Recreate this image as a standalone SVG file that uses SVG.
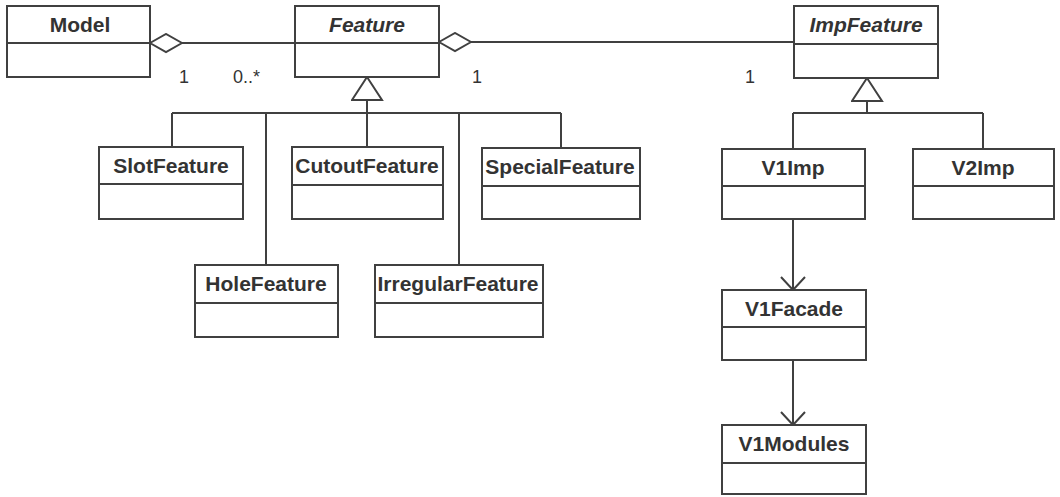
<svg xmlns="http://www.w3.org/2000/svg" width="1060" height="497" viewBox="0 0 1060 497">
<style>
.box{fill:#fff;stroke:#404040;stroke-width:2}
.div{stroke:#404040;stroke-width:2}
.name{font-family:"Liberation Sans",Arial,sans-serif;font-weight:bold;font-size:21px;fill:#333;text-anchor:middle}
.abs{font-style:italic}
.mult{font-family:"Liberation Sans",Arial,sans-serif;font-size:18px;fill:#333}
.ln{fill:none;stroke:#404040;stroke-width:2}
</style>
<defs>
<marker id="diamond" markerUnits="userSpaceOnUse" markerWidth="34" markerHeight="22" viewBox="-1 -1 34 22" refX="0" refY="9" orient="auto">
<path d="M0,9 L16,0 L32,9 L16,18 Z" fill="#fff" stroke="#404040" stroke-width="2"/>
</marker>
<marker id="tri" markerUnits="userSpaceOnUse" markerWidth="26" markerHeight="34" viewBox="-1 -1 26 34" refX="23" refY="15" orient="auto">
<path d="M23,15 L0,0 L0,30 Z" fill="#fff" stroke="#404040" stroke-width="2"/>
</marker>
<marker id="open" markerUnits="userSpaceOnUse" markerWidth="16" markerHeight="28" viewBox="-2 -2 16 28" refX="13" refY="12" orient="auto">
<path d="M0,0 L13,12 L0,24" fill="none" stroke="#404040" stroke-width="2"/>
</marker>
</defs>
<rect width="1060" height="497" fill="#fff"/>
<g id="connectors">
<path class="ln" d="M150,43 H295" marker-start="url(#diamond)"/>
<path class="ln" d="M439,42 H794" marker-start="url(#diamond)"/>
<path class="ln" d="M172,113 H561 M172,113 V147 M266,113 V265 M459,113 V265 M561,113 V148"/>
<path class="ln" d="M367,147 V77" marker-end="url(#tri)"/>
<path class="ln" d="M793,113 H983 M793,113 V149 M983,113 V149"/>
<path class="ln" d="M867,113 V78" marker-end="url(#tri)"/>
<path class="ln" d="M793,219 V290" marker-end="url(#open)"/>
<path class="ln" d="M793,360 V425" marker-end="url(#open)"/>
<text class="mult" x="179" y="83">1</text>
<text class="mult" x="233" y="83">0..*</text>
<text class="mult" x="472" y="83">1</text>
<text class="mult" x="745" y="83">1</text>
</g>
<g id="Model">
<rect class="box" x="7" y="6" width="143" height="71"/>
<line class="div" x1="7" y1="43" x2="150" y2="43"/>
<text class="name" x="80" y="32">Model</text>
</g>
<g id="Feature">
<rect class="box" x="295" y="6" width="144" height="71"/>
<line class="div" x1="295" y1="43" x2="439" y2="43"/>
<text class="name abs" x="367" y="32">Feature</text>
</g>
<g id="ImpFeature">
<rect class="box" x="794" y="6" width="144" height="72"/>
<line class="div" x1="794" y1="44" x2="938" y2="44"/>
<text class="name abs" x="866" y="32">ImpFeature</text>
</g>
<g id="SlotFeature">
<rect class="box" x="99" y="147" width="144" height="72"/>
<line class="div" x1="99" y1="184" x2="243" y2="184"/>
<text class="name" x="171" y="173">SlotFeature</text>
</g>
<g id="CutoutFeature">
<rect class="box" x="292" y="147" width="151" height="72"/>
<line class="div" x1="292" y1="185" x2="443" y2="185"/>
<text class="name" x="367" y="173">CutoutFeature</text>
</g>
<g id="SpecialFeature">
<rect class="box" x="482" y="148" width="158" height="71"/>
<line class="div" x1="482" y1="186" x2="640" y2="186"/>
<text class="name" x="560" y="174">SpecialFeature</text>
</g>
<g id="HoleFeature">
<rect class="box" x="195" y="265" width="143" height="72"/>
<line class="div" x1="195" y1="303" x2="338" y2="303"/>
<text class="name" x="266" y="291">HoleFeature</text>
</g>
<g id="IrregularFeature">
<rect class="box" x="375" y="265" width="168" height="72"/>
<line class="div" x1="375" y1="303" x2="543" y2="303"/>
<text class="name" x="458" y="291">IrregularFeature</text>
</g>
<g id="V1Imp">
<rect class="box" x="722" y="149" width="143" height="70"/>
<line class="div" x1="722" y1="186" x2="865" y2="186"/>
<text class="name" x="793" y="175">V1Imp</text>
</g>
<g id="V2Imp">
<rect class="box" x="913" y="149" width="141" height="70"/>
<line class="div" x1="913" y1="186" x2="1054" y2="186"/>
<text class="name" x="983" y="175">V2Imp</text>
</g>
<g id="V1Facade">
<rect class="box" x="722" y="290" width="144" height="70"/>
<line class="div" x1="722" y1="327" x2="866" y2="327"/>
<text class="name" x="794" y="316">V1Facade</text>
</g>
<g id="V1Modules">
<rect class="box" x="722" y="425" width="144" height="69"/>
<line class="div" x1="722" y1="463" x2="866" y2="463"/>
<text class="name" x="794" y="451">V1Modules</text>
</g>
</svg>
